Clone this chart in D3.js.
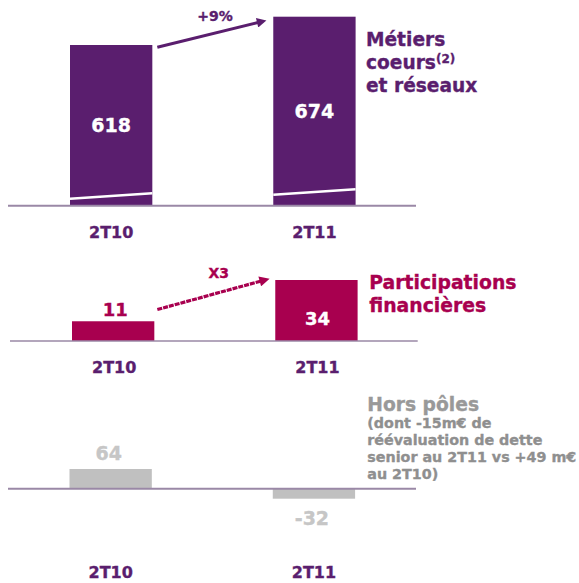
<!DOCTYPE html>
<html><head><meta charset="utf-8">
<script src="https://cdn.jsdelivr.net/npm/d3@7"></script>
<style>body{margin:0;background:#fff}svg{display:block}text{font-family:"DejaVu Sans",Verdana,sans-serif;font-weight:bold;stroke:currentColor;stroke-width:0.35px}</style>
</head><body><svg id="c" width="579" height="583"></svg>
<script>
const categories = ["2T10", "2T11"];
const coreValues = [618, 674];
const participationValues = [11, 34];
const otherValues = [64, -32];
const coreGrowth = "+9%";
const participationGrowth = "X3";
const coreTitle = ["Métiers", "coeurs", "et réseaux"];
const partTitle = ["Participations", "financières"];
const otherTitle = "Hors pôles";
const otherNote = ["(dont -15m€ de", "réévaluation de dette", "senior au 2T11 vs +49 m€", "au 2T10)"];

const PURPLE = "#5a1e6e", CRIMSON = "#a8004f", GREY = "#c0c0c0", AXIS = "#9a88a6";
const svg = d3.select("#c");
svg.append("defs").html(
  `<marker id="ahP" viewBox="0 0 10 10" refX="2" refY="5" markerWidth="4" markerHeight="3.2" orient="auto"><path d="M0,0L10,5L0,10z" fill="${PURPLE}"/></marker>
   <marker id="ahC" viewBox="0 0 10 10" refX="2" refY="5" markerWidth="4" markerHeight="3.2" orient="auto"><path d="M0,0L10,5L0,10z" fill="${CRIMSON}"/></marker>`);

function xScale(x0){
  return d3.scaleBand().domain(categories).range([x0, x0 + 285.6]).paddingInner(0.595).paddingOuter(0);
}
function arrowEnd(x1,y1,tx,ty,len){
  const dx=tx-x1, dy=ty-y1, L=Math.hypot(dx,dy);
  return [tx-dx/L*len, ty-dy/L*len];
}
function txt(sel, color){ return sel.attr("fill", color).style("color", color); }

// ---------- Panel 1 : Métiers coeurs (broken axis) ----------
{
  const x = xScale(70);
  const base = 300;
  const y = d3.scaleLinear().domain([base, 674]).range([205.7, 16.7]);
  const g = svg.append("g");
  g.selectAll("rect").data(coreValues).join("rect")
    .attr("x", (d,i)=>x(categories[i])).attr("width", x.bandwidth())
    .attr("y", d=>y(d)).attr("height", d=>y(base)-y(d)).attr("fill", PURPLE);
  g.selectAll("path.brk").data(coreValues).join("path").attr("class","brk")
    .attr("d", (d,i)=>{const a=x(categories[i]); const b=a+x.bandwidth(); const o = i===0?0:-4;
      return `M${a},${y(base)-7+o}L${b},${y(base)-12.5+o}`;})
    .attr("stroke","#fff").attr("stroke-width",2.4);
  g.append("line").attr("x1",8).attr("x2",416).attr("y1",y(base)).attr("y2",y(base))
    .attr("stroke",AXIS).attr("stroke-width",2);
  txt(g.selectAll("text.v").data(coreValues).join("text").attr("class","v")
    .attr("x",(d,i)=>x(categories[i])+x.bandwidth()/2).attr("y",d=>(y(d)+y(base))/2+7)
    .attr("text-anchor","middle").attr("font-size",19).text(d=>d), "#fff");
  txt(g.selectAll("text.c").data(categories).join("text").attr("class","c")
    .attr("x",d=>x(d)+x.bandwidth()/2).attr("y",237.7)
    .attr("text-anchor","middle").attr("font-size",16).text(d=>d), PURPLE);
  const sx = x(categories[0])+x.bandwidth()+5, sy = y(coreValues[0])+2.3;
  const tx = x(categories[1])-5, ty = y(coreValues[1])+3.3;
  const e = arrowEnd(sx,sy,tx,ty,9.6);
  g.append("line").attr("x1",sx).attr("y1",sy).attr("x2",e[0]).attr("y2",e[1])
    .attr("stroke",PURPLE).attr("stroke-width",3).attr("marker-end","url(#ahP)");
  txt(g.append("text").attr("x",215).attr("y",21).attr("text-anchor","middle").attr("font-size",14)
    .text(coreGrowth), PURPLE);
  const t = txt(g.append("text").attr("font-size",18.6), PURPLE);
  coreTitle.forEach((s,i)=>t.append("tspan").attr("x",366).attr("y",[45.7,69,91.7][i]).text(s));
  txt(g.append("text").attr("x",436).attr("y",63).attr("font-size",12).text("(2)"), PURPLE);
}

// ---------- Panel 2 : Participations financières ----------
{
  const x = xScale(72);
  const y = d3.scaleLinear().domain([0, 34]).range([341, 280]);
  const g = svg.append("g");
  g.selectAll("rect").data(participationValues).join("rect")
    .attr("x",(d,i)=>x(categories[i])).attr("width",x.bandwidth())
    .attr("y",d=>y(d)).attr("height",d=>y(0)-y(d)).attr("fill",CRIMSON);
  g.append("line").attr("x1",10).attr("x2",417.7).attr("y1",y(0)).attr("y2",y(0))
    .attr("stroke",AXIS).attr("stroke-width",1.6);
  txt(g.append("text").attr("x",x(categories[0])+x.bandwidth()/2+2).attr("y",y(participationValues[0])-5)
    .attr("text-anchor","middle").attr("font-size",18).text(participationValues[0]), CRIMSON);
  txt(g.append("text").attr("x",x(categories[1])+x.bandwidth()/2+1).attr("y",y(0)-16)
    .attr("text-anchor","middle").attr("font-size",18).text(participationValues[1]), "#fff");
  txt(g.selectAll("text.c").data(categories).join("text").attr("class","c")
    .attr("x",d=>x(d)+x.bandwidth()/2+1).attr("y",372.7)
    .attr("text-anchor","middle").attr("font-size",16).text(d=>d), PURPLE);
  const sx = x(categories[0])+x.bandwidth()+3, sy = y(participationValues[0])-11.7;
  const tx = x(categories[1])-4.3, ty = y(participationValues[1])-1.7;
  const e = arrowEnd(sx,sy,tx,ty,9.6);
  g.append("line").attr("x1",sx).attr("y1",sy).attr("x2",e[0]).attr("y2",e[1])
    .attr("stroke",CRIMSON).attr("stroke-width",3.2).attr("stroke-dasharray","5,1").attr("marker-end","url(#ahC)");
  txt(g.append("text").attr("x",218.7).attr("y",277.7).attr("text-anchor","middle").attr("font-size",14)
    .text(participationGrowth), CRIMSON);
  const t = txt(g.append("text").attr("font-size",18.8), CRIMSON);
  partTitle.forEach((s,i)=>t.append("tspan").attr("x",369.3).attr("y",[289.3,312.3][i]).text(s));
}

// ---------- Panel 3 : Hors pôles ----------
{
  const x = xScale(69.5);
  const y = d3.scaleLinear().domain([-32, 64]).range([498.7, 469]);
  const g = svg.append("g");
  g.selectAll("rect").data(otherValues).join("rect")
    .attr("x",(d,i)=>x(categories[i])).attr("width",x.bandwidth())
    .attr("y",d=>Math.min(y(d),y(0))).attr("height",d=>Math.abs(y(0)-y(d))).attr("fill",GREY);
  g.append("line").attr("x1",8).attr("x2",416).attr("y1",y(0)).attr("y2",y(0))
    .attr("stroke",AXIS).attr("stroke-width",2);
  txt(g.selectAll("text.v").data(otherValues).join("text").attr("class","v")
    .attr("x",(d,i)=>x(categories[i])+x.bandwidth()/2-2).attr("y",d=> d>=0 ? y(d)-9 : y(d)+26.3)
    .attr("text-anchor","middle").attr("font-size",19).text(d=>d), "#c6c6c6");
  txt(g.selectAll("text.c").data(categories).join("text").attr("class","c")
    .attr("x",d=>x(d)+x.bandwidth()/2).attr("y",578.3)
    .attr("text-anchor","middle").attr("font-size",16).text(d=>d), PURPLE);
  txt(g.append("text").attr("x",367.3).attr("y",410.7).attr("font-size",18.7).text(otherTitle), "#999");
  const t = txt(g.append("text").attr("font-size",14.3), "#8f8f8f");
  otherNote.forEach((s,i)=>t.append("tspan").attr("x",367.3).attr("y",427.5+i*17.3).text(s));
}
</script></body></html>
